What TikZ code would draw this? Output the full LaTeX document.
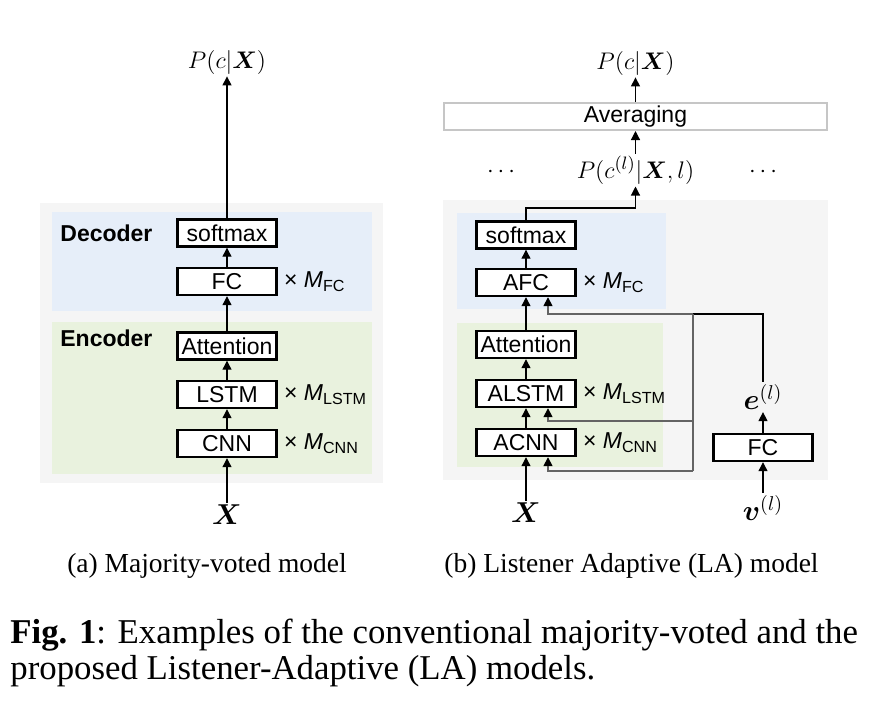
\documentclass[tikz,border=0pt]{standalone}
\usepackage{amsmath}
\usepackage{fontspec}
\setmainfont{Liberation Serif}
\setsansfont{Liberation Sans}
\usepackage{xcolor}
\usepackage{tikz}
\usetikzlibrary{positioning,arrows.meta}

\definecolor{panelGray}{RGB}{245,245,245}
\definecolor{decBlue}{RGB}{230,238,249}
\definecolor{encGreen}{RGB}{233,242,222}
\definecolor{wireGray}{RGB}{100,100,100}

\begin{document}
\begin{tikzpicture}[
        x=0.5pt, y=-0.5pt,
        layer/.style={draw, line width=1.2pt, fill=white, minimum width=49.5pt, minimum height=13.5pt, inner sep=0pt, font=\fontsize{11.5}{13}\selectfont\sffamily},
        mult/.style={inner sep=0pt, font=\fontsize{11.5}{13}\selectfont\sffamily},
        part/.style={anchor=west, inner sep=0pt, font=\fontsize{11.5}{13}\selectfont\sffamily\bfseries},
        var/.style={inner sep=1pt, font=\fontsize{12.6}{14}\selectfont},
        big/.style={inner sep=1pt, font=\fontsize{15.5}{17}\selectfont},
        sub/.style={font=\fontsize{13.75}{15}\selectfont},
        flow/.style={line width=0.6pt, -{Triangle[width=4.5pt,length=4.5pt]}},
        wire/.style={line width=0.8pt, draw=wireGray, -{Triangle[width=4.5pt,length=4.5pt,color=black]}}
    ]

        \useasboundingbox (0,0) rectangle (895,709);

        \fill[panelGray] (40,203) rectangle (383,483);
        \fill[decBlue] (52,212) rectangle (372,311);
        \fill[encGreen] (52,322) rectangle (372,474);
        \fill[panelGray] (443,200) rectangle (828,480);
        \fill[decBlue] (457,213) rectangle (666,309);
        \fill[encGreen] (457,323) rectangle (663,467);

        \node[part] (decA) at (60,233) {Decoder};
        \node[part] (encA) at (60,338) {Encoder};

        \node[layer] (softmaxA) at (227,233) {softmax};
        \node[layer] (fcA) at (227,281.5) {FC};
        \node[layer] (attA) at (227,346) {Attention};
        \node[layer] (lstmA) at (227,394.5) {LSTM};
        \node[layer] (cnnA) at (227,443.5) {CNN};
        \node[mult, right=3pt of fcA] (mFcA) {× \textit{M}\textsubscript{FC}};
        \node[mult, right=3pt of lstmA] (mLstmA) {× \textit{M}\textsubscript{LSTM}};
        \node[mult, right=3pt of cnnA] (mCnnA) {× \textit{M}\textsubscript{CNN}};
        \node[var] (pcxA) at (227,62) {$P(c|\boldsymbol{X})$};
        \node[big] (xA) at (227,515) {$\boldsymbol{X}$};

        \draw[flow] (xA) -- (cnnA);
        \draw[flow] (cnnA) -- (lstmA);
        \draw[flow] (lstmA) -- (attA);
        \draw[flow] (attA) -- (fcA);
        \draw[flow] (fcA) -- (softmaxA);
        \draw[flow] (softmaxA) -- (pcxA);

        \node[layer] (softmaxB) at (526,235) {softmax};
        \node[layer] (afcB) at (526,282.5) {AFC};
        \node[layer] (attB) at (526,344.5) {Attention};
        \node[layer] (alstmB) at (526,393.5) {ALSTM};
        \node[layer] (acnnB) at (526,442.5) {ACNN};
        \node[mult, right=3pt of afcB] (mFcB) {× \textit{M}\textsubscript{FC}};
        \node[mult, right=3pt of alstmB] (mLstmB) {× \textit{M}\textsubscript{LSTM}};
        \node[mult, right=3pt of acnnB] (mCnnB) {× \textit{M}\textsubscript{CNN}};
        \node[layer] (fcL) at (763,447.5) {FC};
        \node[var, font=\fontsize{14}{16}\selectfont] (eL) at (763,397) {$\boldsymbol{e}^{(l)}$};
        \node[var, font=\fontsize{14}{16}\selectfont] (vL) at (763,508) {$\boldsymbol{v}^{(l)}$};
        \node[big] (xB) at (526,513) {$\boldsymbol{X}$};
        \node[var] (pclB) at (635.5,170) {$P(c^{(l)}|\boldsymbol{X},l)$};
        \node[var] (dotsL) at (503,172) {$\cdots$};
        \node[var] (dotsR) at (765,172) {$\cdots$};
        \node[layer, draw=gray!45, line width=1pt, minimum width=191.5pt] (avg) at (635.5,116.5) {Averaging};
        \node[var] (pcxB) at (635.5,63) {$P(c|\boldsymbol{X})$};

        \coordinate (turnB) at (635.5,208);
        \coordinate (eTop) at (763,314);
        \coordinate (split) at (693,314);
        \coordinate (splitMid) at (693,421);
        \coordinate (splitLow) at (693,471);

        \draw[flow] (xB) -- (acnnB);
        \draw[flow] (acnnB) -- (alstmB);
        \draw[flow] (alstmB) -- (attB);
        \draw[flow] (attB) -- (afcB);
        \draw[flow] (afcB) -- (softmaxB);
        \draw[flow] (softmaxB.north) |- (turnB) -- (pclB.south);
        \draw[flow] (pclB) -- (avg);
        \draw[flow] (avg) -- (pcxB);
        \draw[flow] (vL) -- (fcL);
        \draw[flow] (fcL) -- (eL);

        \draw[line width=1pt] (eL.north) -- (eTop) -- (split);
        \draw[wire] (split) -| ([xshift=11pt]afcB.south);
        \draw[wire, -] (split) -- (splitLow);
        \draw[wire] (splitMid) -| ([xshift=11pt]alstmB.south);
        \draw[wire] (splitLow) -| ([xshift=11pt]acnnB.south);

        \node[sub] (capA) at (207,566) {(a) Majority-voted model};
        \node[sub] (capB) at (631.5,566) {(b) Listener Adaptive (LA) model};
        \node[anchor=base west, inner sep=0pt, font=\fontsize{17.4}{19}\selectfont] (figCapA) at (10,643) {\textbf{Fig. 1}: Examples of the conventional majority-voted and the};
        \node[anchor=base west, inner sep=0pt, font=\fontsize{17.4}{19}\selectfont] (figCapB) at (10,679) {proposed Listener-Adaptive (LA) models.};

    \end{tikzpicture}
\end{document}
